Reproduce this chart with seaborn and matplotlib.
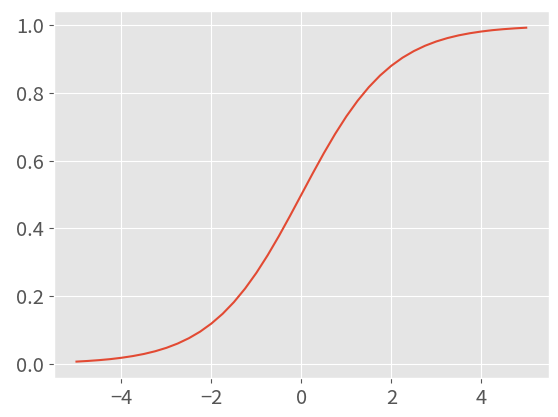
import matplotlib
matplotlib.use("Agg")
import matplotlib.pyplot as plt
import seaborn as sns
import pandas as pd

x_values = [-5.0, -4.75, -4.5, -4.25, -4.0, -3.75, -3.5, -3.25, -3.0, -2.75,
            -2.5, -2.25, -2.0, -1.75, -1.5, -1.25, -1.0, -0.75, -0.5, -0.25,
            0.0, 0.25, 0.5, 0.75, 1.0, 1.25, 1.5, 1.75, 2.0, 2.25,
            2.5, 2.75, 3.0, 3.25, 3.5, 3.75, 4.0, 4.25, 4.5, 4.75, 5.0]
y_values = [0.0067, 0.0086, 0.0110, 0.0140, 0.0180, 0.0230, 0.0293, 0.0373, 0.0474, 0.0601,
            0.0759, 0.0953, 0.1192, 0.1480, 0.1824, 0.2227, 0.2689, 0.3208, 0.3775, 0.4378,
            0.5000, 0.5622, 0.6225, 0.6792, 0.7311, 0.7773, 0.8176, 0.8520, 0.8808, 0.9047,
            0.9241, 0.9399, 0.9526, 0.9627, 0.9707, 0.9770, 0.9820, 0.9860, 0.9890, 0.9914, 0.9933]

plt.style.use("ggplot")
plt.rcParams["font.family"] = ["Noto Sans CJK SC", "DejaVu Sans"]
plt.rcParams["font.size"] = 14.5
plt.rcParams["axes.unicode_minus"] = True

df = pd.DataFrame({"x": x_values, "y": y_values})
fig = plt.figure(figsize=(5.58, 4.17), dpi=100)
ax = fig.add_axes([54 / 558, (417 - 378.3) / 417, (548.7 - 54) / 558, (378.3 - 11) / 417])
sns.lineplot(data=df, x="x", y="y", ax=ax, color="#E24A33", linewidth=1.5)
ax.set_xlabel("")
ax.set_ylabel("")
fig.savefig("out.png", dpi=100)
